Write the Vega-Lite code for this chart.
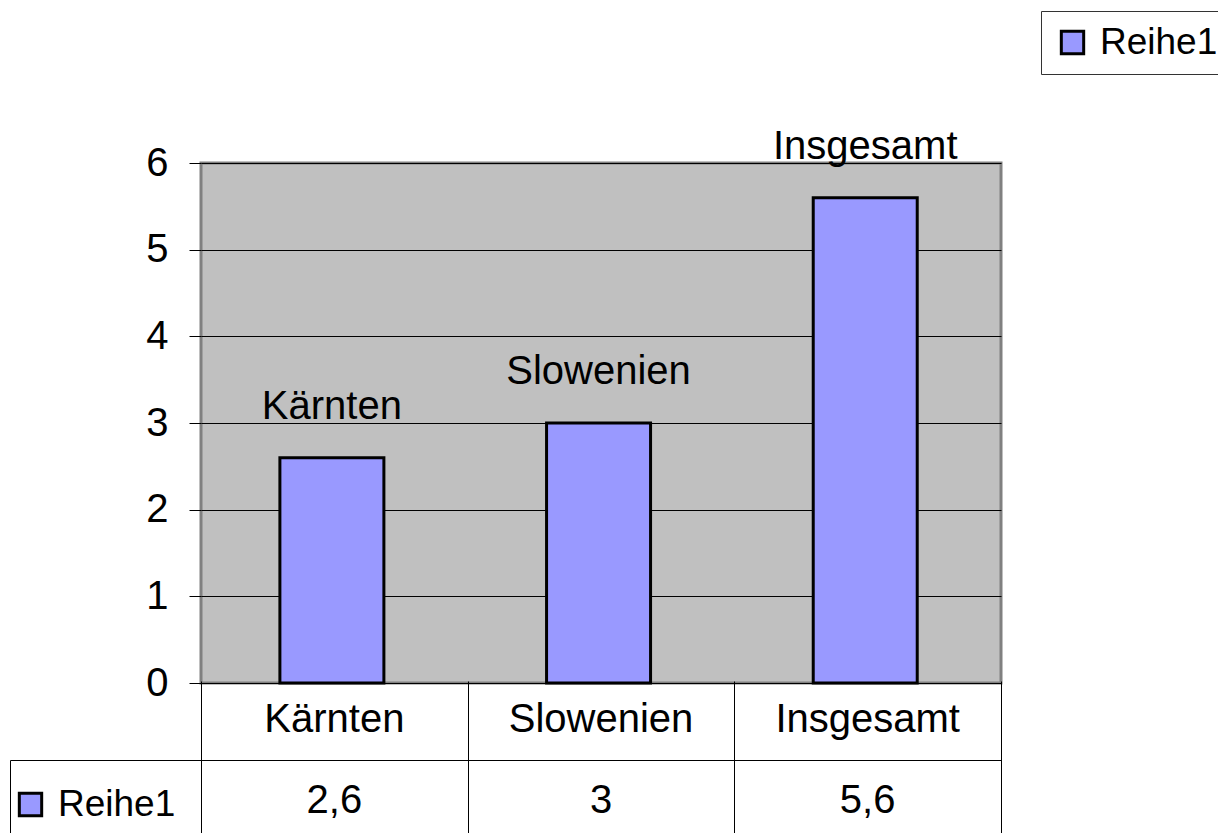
{
  "$schema": "https://vega.github.io/schema/vega-lite/v6.json",
  "background": "white",
  "autosize": {"type": "pad"},
  "padding": {"left": 9, "top": 9, "right": 0, "bottom": 0},
  "columns": 2,
  "spacing": 0,
  "bounds": "flush",
  "datasets": {
    "werte": [
      {"kategorie": "Kärnten", "wert": 2.6, "reihe": "Reihe1"},
      {"kategorie": "Slowenien", "wert": 3, "reihe": "Reihe1"},
      {"kategorie": "Insgesamt", "wert": 5.6, "reihe": "Reihe1"}
    ]
  },
  "concat": [
    {
      "width": 191,
      "height": 520,
      "data": {"values": []},
      "mark": "point",
      "encoding": {}
    },
    {
      "width": 800,
      "height": 520,
      "data": {"name": "werte"},
      "view": {"fill": "#C0C0C0", "stroke": "#808080", "strokeWidth": 3},
      "encoding": {
        "x": {
          "field": "kategorie",
          "type": "nominal",
          "sort": null,
          "scale": {"type": "band", "paddingInner": 0.61, "paddingOuter": 0.305, "align": 0.485},
          "axis": null
        }
      },
      "layer": [
        {
          "mark": {"type": "bar", "stroke": "black", "strokeWidth": 3},
          "encoding": {
            "y": {
              "field": "wert",
              "type": "quantitative",
              "scale": {"domain": [0, 6], "nice": false},
              "axis": {
                "values": [0, 1, 2, 3, 4, 5, 6],
                "format": "d",
                "title": null,
                "grid": true,
                "gridColor": "black",
                "gridWidth": 1,
                "gridOpacity": 1,
                "tickColor": "black",
                "tickSize": 12,
                "tickWidth": 1,
                "domain": false,
                "labelPadding": 21,
                "labelFontSize": 40,
                "labelColor": "black",
                "labelFont": "Liberation Sans"
              }
            },
            "color": {
              "field": "reihe",
              "type": "nominal",
              "scale": {"range": ["#9999FF"]},
              "legend": {
                "title": null,
                "orient": "none",
                "legendX": 840,
                "legendY": -152,
                "padding": 13,
                "strokeColor": "#333333",
                "fillColor": "white",
                "symbolOpacity": 1
              }
            }
          }
        },
        {
          "mark": {"type": "text", "baseline": "alphabetic", "dy": -39, "fontSize": 40, "font": "Liberation Sans", "color": "black"},
          "encoding": {
            "y": {"field": "wert", "type": "quantitative"},
            "text": {"field": "kategorie"}
          }
        }
      ]
    },
    {
      "width": 191,
      "height": 152,
      "data": {"values": [{"reihe": "Reihe1"}]},
      "mark": {"type": "square", "opacity": 0},
      "encoding": {
        "y": {
          "datum": "values",
          "type": "nominal",
          "scale": {"type": "point", "domain": ["values"], "range": [77, 152]},
          "axis": {
            "title": null,
            "labels": false,
            "ticks": false,
            "grid": false,
            "domain": true,
            "domainColor": "black",
            "domainWidth": 1
          }
        },
        "color": {
          "field": "reihe",
          "type": "nominal",
          "scale": {"range": ["#9999FF"]},
          "legend": {
            "title": null,
            "orient": "none",
            "legendX": 2,
            "legendY": 103,
            "padding": 0,
            "symbolOpacity": 1
          }
        }
      }
    },
    {
      "width": 800,
      "height": 152,
      "data": {"name": "werte"},
      "encoding": {
        "x": {
          "field": "kategorie",
          "type": "nominal",
          "sort": null,
          "scale": {"type": "band", "paddingInner": 0, "paddingOuter": 0},
          "axis": {
            "orient": "bottom",
            "tickBand": "extent",
            "grid": true,
            "gridColor": "black",
            "gridWidth": 1,
            "gridOpacity": 1,
            "labels": false,
            "ticks": false,
            "domain": false,
            "title": null
          }
        }
      },
      "layer": [
        {
          "mark": {"type": "text", "baseline": "alphabetic", "dy": 10, "fontSize": 40, "font": "Liberation Sans", "color": "black"},
          "encoding": {
            "y": {
              "datum": "names",
              "type": "nominal",
              "scale": {"type": "band", "domain": ["names", "values"], "range": [0, 154], "paddingInner": 0, "paddingOuter": 0},
              "axis": {
                "values": ["values"],
                "bandPosition": 0,
                "grid": true,
                "gridColor": "black",
                "gridWidth": 1,
                "gridOpacity": 1,
                "tickSize": 191,
                "tickColor": "black",
                "tickWidth": 1,
                "labels": false,
                "domain": false,
                "title": null
              }
            },
            "text": {"field": "kategorie"}
          }
        },
        {
          "mark": {"type": "text", "baseline": "alphabetic", "dy": 14, "fontSize": 40, "font": "Liberation Sans", "color": "black"},
          "encoding": {
            "y": {"datum": "values", "type": "nominal"},
            "text": {"field": "wert", "type": "quantitative", "format": "~g"}
          }
        }
      ]
    }
  ],
  "resolve": {
    "scale": {"color": "independent"},
    "legend": {"color": "independent"}
  },
  "config": {
    "view": {"stroke": null},
    "font": "Liberation Sans",
    "text": {"font": "Liberation Sans", "fontSize": 40, "color": "black"},
    "axis": {"labelFont": "Liberation Sans", "labelFontSize": 40, "labelColor": "black"},
    "legend": {
      "labelFont": "Liberation Sans",
      "labelFontSize": 37,
      "labelColor": "black",
      "symbolType": "square",
      "symbolSize": 500,
      "symbolStrokeColor": "black",
      "symbolStrokeWidth": 3,
      "labelOffset": 9
    },
    "locale": {
      "number": {"decimal": ",", "thousands": ".", "grouping": [3], "currency": ["", " €"]}
    }
  }
}
